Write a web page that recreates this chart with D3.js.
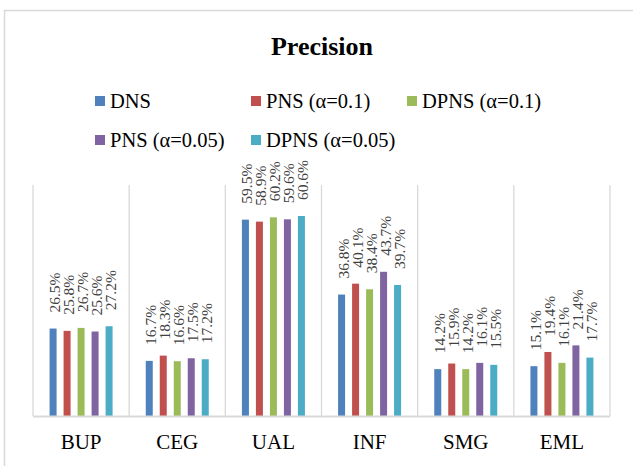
<!DOCTYPE html>
<html><head><meta charset="utf-8">
<script src="https://cdn.jsdelivr.net/npm/d3@7"></script>
<style>html,body{margin:0;padding:0;background:#fff;}svg{display:block;}
svg text{font-family:"Liberation Serif","Times New Roman",Times,serif;}</style>
</head><body>
<script>
const categories = ["BUP", "CEG", "UAL", "INF", "SMG", "EML"];
const seriesNames = ["DNS", "PNS (α=0.1)", "DPNS (α=0.1)", "PNS (α=0.05)", "DPNS (α=0.05)"];
const seriesColors = ["#4F81BD", "#C0504D", "#9BBB59", "#8064A2", "#4BACC6"];
const dns      = [26.5, 16.7, 59.5, 36.8, 14.2, 15.1];
const pns01    = [25.8, 18.3, 58.9, 40.1, 15.9, 19.4];
const dpns01   = [26.7, 16.6, 60.2, 38.4, 14.2, 16.1];
const pns005   = [25.6, 17.5, 59.6, 43.7, 16.1, 21.4];
const dpns005  = [27.2, 17.2, 60.6, 39.7, 15.5, 17.7];
const seriesValues = [dns, pns01, dpns01, pns005, dpns005];
const chartTitle = "Precision";

const W = 633, H = 466;
const svg = d3.select("body").append("svg").attr("width", W).attr("height", H);

// chart border
svg.append("path").attr("d", "M4.5,466 V10.5 H633").attr("fill", "none").attr("stroke", "#D9D9D9").attr("stroke-width", 1.5);

const plot = {left: 33, right: 610, top: 185, bottom: 416};
const x0 = d3.scaleBand().domain(categories).range([plot.left, plot.right]);
const x1 = d3.scaleBand().domain(seriesNames).range([-35, 35]).paddingInner(0.5).paddingOuter(0.25);
const y = d3.scaleLinear().domain([0, 0.7]).range([plot.bottom, plot.top]);

// category separators
const seps = categories.map(c => x0(c)).concat([plot.right]);
svg.append("g").selectAll("line").data(seps).join("line")
  .attr("x1", d => d).attr("x2", d => d).attr("y1", plot.top).attr("y2", plot.bottom)
  .attr("stroke", "#D9D9D9").attr("stroke-width", 1.3);

// bars
const data = [];
categories.forEach((c, i) => seriesNames.forEach((s, j) => data.push({c, s, j, v: seriesValues[j][i] / 100})));
const cx = d => x0(d.c) + x0.bandwidth() / 2 + x1(d.s);
svg.append("g").selectAll("rect").data(data).join("rect")
  .attr("x", cx).attr("width", x1.bandwidth())
  .attr("y", d => y(d.v)).attr("height", d => y(0) - y(d.v))
  .attr("fill", d => seriesColors[d.j]);

// labels
svg.append("g").selectAll("text").data(data).join("text")
  .attr("transform", d => `translate(${cx(d) + x1.bandwidth() / 2 + 1.5},${y(d.v) - 16}) rotate(-90)`)
  .attr("dominant-baseline", "central")
  .attr("font-size", 15.5).attr("fill", "#404040")
  .text(d => d3.format(".1f")(d.v * 100) + "%");

// x axis line
svg.append("line").attr("x1", plot.left).attr("x2", plot.right).attr("y1", plot.bottom + 0.5).attr("y2", plot.bottom + 0.5)
  .attr("stroke", "#D9D9D9").attr("stroke-width", 2);
const xAxis = d3.axisBottom(x0).tickSize(0).tickPadding(0);
const gx = svg.append("g").attr("transform", `translate(0,${plot.bottom})`).call(xAxis);
gx.attr("font-family", null);
gx.select(".domain").remove();
gx.selectAll("text").attr("font-size", 21).attr("fill", "#000")
  .attr("dy", null).attr("y", 33);

// title
svg.append("text").attr("x", 322).attr("y", 55).attr("text-anchor", "middle")
  .attr("font-weight", "bold").attr("font-size", 26).text(chartTitle);

// legend
const legPos = [[95, 108], [251, 108], [407, 108], [95, 147], [251, 147]];
const lg = svg.append("g").selectAll("g").data(seriesNames).join("g")
  .attr("transform", (d, i) => `translate(${legPos[i][0]},${legPos[i][1]})`);
lg.append("rect").attr("x", 0).attr("y", -12).attr("width", 10).attr("height", 10).attr("fill", (d, i) => seriesColors[i]);
lg.append("text").attr("x", 15).attr("y", 0).attr("font-size", 20.5).attr("fill", "#000").text(d => d);
</script>
</body></html>
